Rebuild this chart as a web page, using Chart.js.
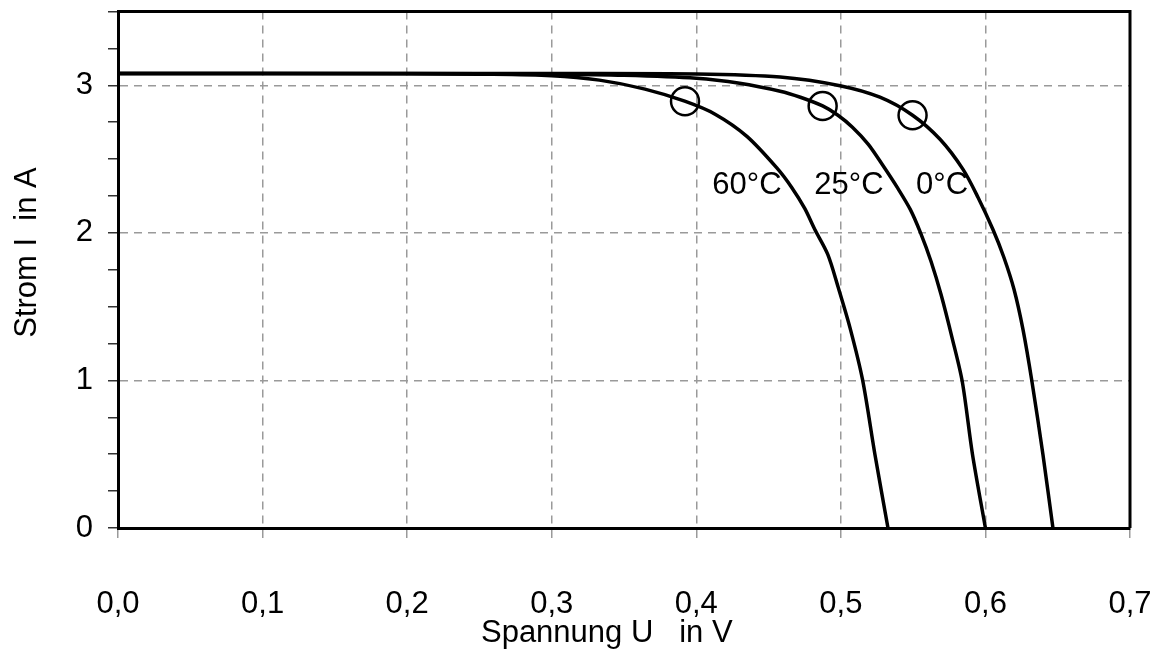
<!DOCTYPE html>
<html>
<head>
<meta charset="utf-8">
<script src="https://cdn.jsdelivr.net/npm/chart.js@4"></script>
<style>
  html, body { margin: 0; padding: 0; background: #fff; overflow: hidden; }
  #wrap { position: relative; top: -5px; width: 1156px; height: 657px; }
</style>
</head>
<body>
<div id="wrap"><canvas id="kennlinie"></canvas></div>
<script>
const spannung60 = [0, 0.20, 0.25, 0.30, 0.333, 0.3645, 0.392, 0.413, 0.435, 0.456, 0.466, 0.475, 0.482, 0.491, 0.498, 0.5063, 0.515, 0.5236, 0.5326];
const strom60 = [3.08, 3.078, 3.075, 3.065, 3.035, 2.974, 2.892, 2.804, 2.654, 2.437, 2.308, 2.166, 2.023, 1.853, 1.636, 1.358, 1.005, 0.496, 0];

const spannung25 = [0, 0.20, 0.30, 0.35, 0.40, 0.430, 0.458, 0.472, 0.4874, 0.498, 0.508, 0.519, 0.529, 0.539, 0.548, 0.555, 0.5624, 0.5693, 0.5769, 0.584, 0.591, 0.600];
const strom25 = [3.08, 3.08, 3.075, 3.068, 3.048, 3.014, 2.96, 2.919, 2.86, 2.797, 2.716, 2.60, 2.458, 2.308, 2.159, 2.003, 1.806, 1.582, 1.29, 0.991, 0.502, 0];

const spannung0 = [0, 0.30, 0.40, 0.458, 0.4994, 0.527, 0.5496, 0.5686, 0.5845, 0.5949, 0.6052, 0.6128, 0.6198, 0.626, 0.6322, 0.6398, 0.6467];
const strom0 = [3.08, 3.08, 3.077, 3.056, 2.997, 2.919, 2.797, 2.634, 2.43, 2.24, 2.023, 1.833, 1.616, 1.344, 0.991, 0.496, 0];

// Markierte Punkte (Kreise)
const kreisU = [0.3922, 0.4874, 0.5496];
const kreisI = [2.892, 2.86, 2.797];

// Beschriftung der Kurven
const kurvenText = ["60°C", "25°C", "0°C"];
const textU = [0.435, 0.5056, 0.570];
const textI = [2.32, 2.32, 2.32];

const fontName = '"Liberation Sans", Arial, sans-serif';
const fontSize = 31;

function toPoints(xs, ys) {
  return xs.map((x, i) => ({ x: x, y: ys[i] }));
}

const kurve = {
  showLine: true,
  borderColor: "#000",
  borderWidth: 3.5,
  pointRadius: 0,
  fill: false,
  tension: 0.3,
};

// Rahmen oben/rechts und Kurvenbeschriftung
const rahmenPlugin = {
  id: "rahmen",
  afterDatasetsDraw(chart) {
    const { ctx, chartArea, scales } = chart;
    ctx.save();
    ctx.fillStyle = "#000";
    ctx.font = fontSize + "px " + fontName;
    ctx.textAlign = "center";
    ctx.textBaseline = "middle";
    kurvenText.forEach((t, i) => {
      ctx.fillText(t, scales.x.getPixelForValue(textU[i]), scales.y.getPixelForValue(textI[i]));
    });
    ctx.strokeStyle = "#000";
    ctx.lineWidth = 3;
    ctx.beginPath();
    ctx.moveTo(chartArea.left, chartArea.top);
    ctx.lineTo(chartArea.right, chartArea.top);
    ctx.lineTo(chartArea.right, chartArea.bottom);
    ctx.stroke();
    ctx.restore();
  },
};

const ctx = document.getElementById("kennlinie").getContext("2d");
new Chart(ctx, {
  type: "scatter",
  data: {
    datasets: [
      Object.assign({ label: "60°C", data: toPoints(spannung60, strom60) }, kurve),
      Object.assign({ label: "25°C", data: toPoints(spannung25, strom25) }, kurve),
      Object.assign({ label: "0°C", data: toPoints(spannung0, strom0) }, kurve),
      {
        label: "Kreise",
        data: toPoints(kreisU, kreisI),
        showLine: false,
        pointRadius: 14,
        pointBorderWidth: 2.5,
        pointBorderColor: "#000",
        pointBackgroundColor: "rgba(0,0,0,0)",
      },
    ],
  },
  options: {
    responsive: true,
    maintainAspectRatio: false,
    animation: false,
    devicePixelRatio: 1,
    layout: { padding: { top: 0, right: 26, left: 0, bottom: 0 } },
    plugins: {
      legend: { display: false },
      tooltip: { enabled: false },
    },
    scales: {
      x: {
        type: "linear",
        min: 0,
        max: 0.7,
        afterFit: (scale) => {
          scale.height = 124;
          scale.paddingLeft = 0;
          scale.paddingRight = 0;
        },
        ticks: {
          stepSize: 0.1,
          autoSkip: false,
          maxRotation: 0,
          padding: 46,
          color: "#000",
          font: { family: fontName, size: fontSize },
          callback: (v) => v.toFixed(1).replace(".", ","),
        },
        grid: {
          color: "#9a9a9a",
          lineWidth: 1.5,
          tickLength: 12,
          tickColor: "#9a9a9a",
          tickWidth: 1.5,
          tickBorderDash: [8, 6],
        },
        border: { color: "#000", width: 3, dash: [8, 6] },
        title: {
          display: true,
          text: "Spannung U   in V    ",
          color: "#000",
          font: { family: fontName, size: fontSize },
          padding: { top: 0, bottom: 0 },
        },
      },
      y: {
        type: "linear",
        min: 0,
        max: 3.5,
        afterFit: (scale) => {
          scale.width = 118;
          scale.paddingTop = 0;
          scale.paddingBottom = 0;
        },
        ticks: {
          stepSize: 0.25,
          autoSkip: false,
          padding: 15,
          color: "#000",
          font: { family: fontName, size: fontSize },
          callback: (v) => (Number.isInteger(v) ? String(v) : ""),
        },
        grid: {
          color: (c) => (c.tick && Number.isInteger(c.tick.value) ? "#9a9a9a" : "rgba(0,0,0,0)"),
          lineWidth: 1.5,
          tickLength: 10,
          tickColor: "#333",
          tickWidth: 1.5,
        },
        border: { color: "#000", width: 3, dash: [8, 6] },
        title: {
          display: true,
          text: "    Strom I  in A",
          color: "#000",
          font: { family: fontName, size: fontSize },
          padding: { top: 9, bottom: 0 },
        },
      },
    },
  },
  plugins: [rahmenPlugin],
});
</script>
</body>
</html>
